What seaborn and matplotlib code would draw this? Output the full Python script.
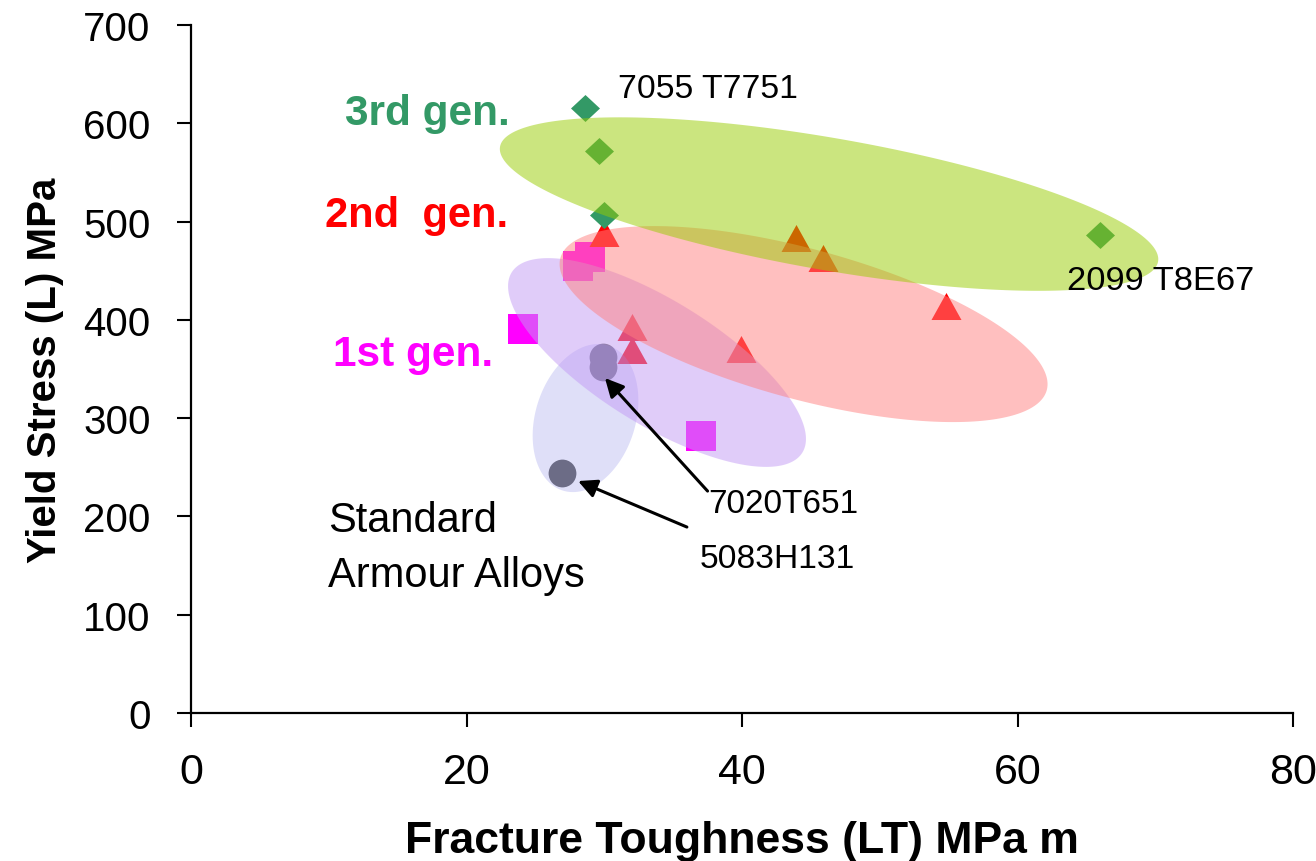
import numpy as np
import matplotlib.pyplot as plt
import seaborn as sns

# data
gen3_x = [28.6, 29.6, 30.0, 66.0]
gen3_y = [616, 572, 507, 486]
gen2_x = [30.0, 43.9, 45.9, 54.8, 32.0, 32.0, 39.9]
gen2_y = [488, 483, 463, 414, 393, 369, 370]
gen1_x = [28.1, 29.0, 24.1, 37.0]
gen1_y = [455, 464, 391, 282]
std_x = [29.9, 29.9, 26.9]
std_y = [362, 352, 244]

x_ticks = [0, 20, 40, 60, 80]
y_ticks = [0, 100, 200, 300, 400, 500, 600, 700]

# shaded groups: centre in data units, half axes in pixels, tilt in degrees (clockwise)
ell_cx = [28.64, 33.83, 44.47, 46.32]
ell_cy = [300.1, 356.6, 395.7, 517.8]
ell_a = [76, 171, 252, 334]
ell_b = [50, 62, 75, 66]
ell_ang = [-72.6, 31.8, 15.2, 9.9]
ell_col = ['#8080e6', '#c39bf5', '#ff8080', '#99cc00']
ell_alpha = [0.25, 0.5, 0.5, 0.5]

sns.set_style("white")
plt.rcParams['font.family'] = ['Liberation Sans', 'DejaVu Sans']
plt.rcParams['text.color'] = 'black'
plt.rcParams['axes.labelcolor'] = 'black'

fig = plt.figure(figsize=(13.16, 8.62), dpi=100)
ax = fig.add_axes([191 / 1316, 148 / 862, 1102 / 1316, 688 / 862])

diamond = [(-1, 0), (0, 0.93), (1, 0), (0, -0.93)]
triangle = [(0, 0.9), (-1, -0.9), (1, -0.9)]

sns.scatterplot(x=std_x, y=std_y, marker='o', s=400, color='#666666', linewidth=0, ax=ax, zorder=2)
sns.scatterplot(x=gen1_x, y=gen1_y, marker='s', s=436, color='#ff00ff', linewidth=0, ax=ax, zorder=2)
sns.scatterplot(x=gen2_x, y=gen2_y, marker=triangle, s=467, color='#ff0000', linewidth=0, ax=ax, zorder=2)
sns.scatterplot(x=gen3_x, y=gen3_y, marker=diamond, s=436, color='#339966', linewidth=0, ax=ax, zorder=2)

ax.set_xlim(0, 80)
ax.set_ylim(0, 700)

# pixels per data unit, so the ellipses keep their drawn shape
bb = ax.get_window_extent()
sx = bb.width / 80
sy = bb.height / 700
t = np.linspace(0, 2 * np.pi, 300)
for cx, cy, a, b, ang, c, al in zip(ell_cx, ell_cy, ell_a, ell_b, ell_ang, ell_col, ell_alpha):
    th = np.radians(ang)
    u = a * np.cos(t)
    v = b * np.sin(t)
    du = u * np.cos(th) - v * np.sin(th)
    dv = u * np.sin(th) + v * np.cos(th)
    ax.fill(cx + du / sx, cy - dv / sy, color=c, alpha=al, lw=0, zorder=3)

# group labels
ax.text(11.18, 599, '3rd gen.', color='#339966', fontsize=30.5, fontweight='bold', va='baseline', zorder=5)
ax.text(9.73, 495.4, '2nd  gen.', color='#ff0000', fontsize=30, fontweight='bold', va='baseline', zorder=5)
ax.text(10.31, 354, '1st gen.', color='#ff00ff', fontsize=30.5, fontweight='bold', va='baseline', zorder=5)

ax.text(31.0, 626.6, '7055 T7751', fontsize=24.3, va='baseline', zorder=5)
ax.text(63.6, 431.3, '2099 T8E67', fontsize=24.8, va='baseline', zorder=5)
ax.text(9.94, 185.0, 'Standard', fontsize=30, va='baseline', zorder=5)
ax.text(9.94, 129.2, 'Armour Alloys', fontsize=30, va='baseline', zorder=5)
ax.text(37.54, 204.5, '7020T651', fontsize=24, va='baseline', zorder=5)
ax.text(36.94, 148.5, '5083H131', fontsize=24.2, va='baseline', zorder=5)

arrow = dict(arrowstyle='-|>', color='black', lw=2.2, mutation_scale=28, shrinkA=0, shrinkB=0)
ax.annotate('', xy=(30.05, 340.8), xytext=(37.5, 225.8), arrowprops=arrow, zorder=5)
ax.annotate('', xy=(28.1, 236.0), xytext=(36.0, 189.2), arrowprops=arrow, zorder=5)

ax.set_xticks(x_ticks)
ax.set_yticks(y_ticks)
ax.tick_params(axis='both', direction='out', length=10, width=1.5, colors='black',
               bottom=True, left=True)
ax.tick_params(axis='y', labelsize=29, pad=19)
ax.tick_params(axis='x', labelsize=31, pad=18)

for side in ['top', 'right']:
    ax.spines[side].set_visible(False)
for side in ['left', 'bottom']:
    ax.spines[side].set_color('black')
    ax.spines[side].set_linewidth(1.6)

ax.set_xlabel('Fracture Toughness (LT) MPa m', fontsize=32, fontweight='bold', labelpad=20)
ax.set_ylabel('Yield Stress (L) MPa', fontsize=29, fontweight='bold', labelpad=14)

fig.savefig('out.png', dpi=100)
